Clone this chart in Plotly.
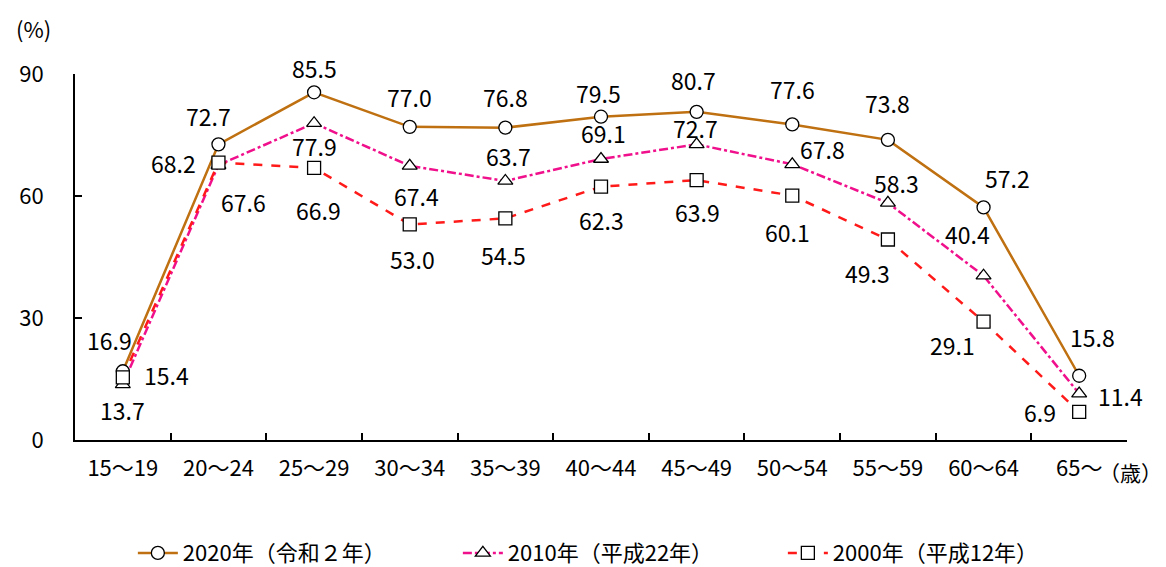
import plotly.graph_objects as go

categories = ["15～19", "20～24", "25～29", "30～34", "35～39", "40～44",
              "45～49", "50～54", "55～59", "60～64", "65～"]
s2020 = [16.9, 72.7, 85.5, 77.0, 76.8, 79.5, 80.7, 77.6, 73.8, 57.2, 15.8]
s2010 = [13.7, 67.6, 77.9, 67.4, 63.7, 69.1, 72.7, 67.8, 58.3, 40.4, 11.4]
s2000 = [15.4, 68.2, 66.9, 53.0, 54.5, 62.3, 63.9, 60.1, 49.3, 29.1, 6.9]
names = ["2020年（令和２年）", "2010年（平成22年）", "2000年（平成12年）"]
y_ticks = [0, 30, 60, 90]

# label offsets in pixels (dx, dy with dy positive = down)
off2020 = [(-13, -31), (-10, -28), (0, -24), (0, -30), (0, -31), (-3, -24),
           (-3, -32), (0, -35), (0, -37), (24, -29), (13, -39)]
off2010 = [(0, 26), (25, 37), (0, 23), (7, 30), (3, -25), (2, -26),
           (-1, -16), (30, -15), (9, -20), (-16, -42), (41, 2)]
off2000 = [(44, -2), (-45, 0), (4, 42), (3, 35), (-2, 37), (0, 33),
           (1, 32), (-5, 36), (-20, 33), (-31, 23), (-39, 0)]

FONT = "Noto Sans CJK JP"
series = [
    (s2020, off2020, "#BF7010", "solid", "circle"),
    (s2010, off2010, "#F0108C", "dashdot", "triangle-up"),
    (s2000, off2000, "#FF1A1A", "dash", "square"),
]

fig = go.Figure()
# lines first
for vals, _, col, dash, sym in series:
    fig.add_trace(go.Scatter(x=categories, y=vals, mode="lines",
                             line=dict(color=col, width=2.5, dash=dash),
                             showlegend=False, hoverinfo="skip"))
# markers on top
for vals, _, col, dash, sym in series:
    fig.add_trace(go.Scatter(x=categories, y=vals, mode="markers",
                             marker=dict(symbol=sym, size=13, color="white",
                                         line=dict(color="black", width=1.3)),
                             showlegend=False))
# legend entries
for (vals, _, col, dash, sym), nm in zip(series, names):
    fig.add_trace(go.Scatter(x=[None], y=[None], mode="lines+markers", name=nm,
                             line=dict(color=col, width=2.5, dash=dash),
                             marker=dict(symbol=sym, size=13, color="white",
                                         line=dict(color="black", width=1.3))))

# data labels
for vals, offs, col, dash, sym in series:
    for c, v, (dx, dy) in zip(categories, vals, offs):
        fig.add_annotation(x=c, y=v, text=f"{v:.1f}", showarrow=False,
                           xshift=dx, yshift=-dy,
                           font=dict(family=FONT, size=23, color="black"))

fig.add_annotation(xref="paper", yref="paper", x=-0.058, y=1.125, text="(%)",
                   showarrow=False, xanchor="left", yanchor="middle",
                   font=dict(family=FONT, size=22, color="black"))
fig.add_annotation(xref="paper", yref="paper", x=1.035, y=-0.087, text="（歳）",
                   showarrow=False, xanchor="right", yanchor="middle",
                   font=dict(family=FONT, size=21, color="black"))

# page body has an 8px margin: shift the figure by -8px
fig.update_layout(
    width=1158, height=585,
    margin=dict(l=67, r=39, t=66, b=153),
    paper_bgcolor="white", plot_bgcolor="white",
    font=dict(family=FONT, size=22, color="black"),
    legend=dict(orientation="h", x=0.055, xanchor="left", y=-0.309,
                yanchor="middle", font=dict(family=FONT, size=22),
                itemwidth=40, entrywidth=270, entrywidthmode="pixels",
                bgcolor="rgba(0,0,0,0)"),
)
fig.update_xaxes(type="category", range=[-0.5, 10.5], showline=True,
                 linecolor="black", linewidth=2, ticks="inside", ticklen=7,
                 tickwidth=2, tickcolor="black", tickson="boundaries",
                 showgrid=False, zeroline=False, automargin=False,
                 ticklabelstandoff=8,
                 tickfont=dict(family=FONT, size=22))
fig.update_yaxes(range=[0, 90], tickvals=y_ticks, showline=True,
                 linecolor="black", linewidth=2, ticks="inside", ticklen=7,
                 tickwidth=2, tickcolor="black", showgrid=False, zeroline=False,
                 automargin=False,
                 ticklabelstandoff=25, tickfont=dict(family=FONT, size=22))

fig.write_html("out.html")
